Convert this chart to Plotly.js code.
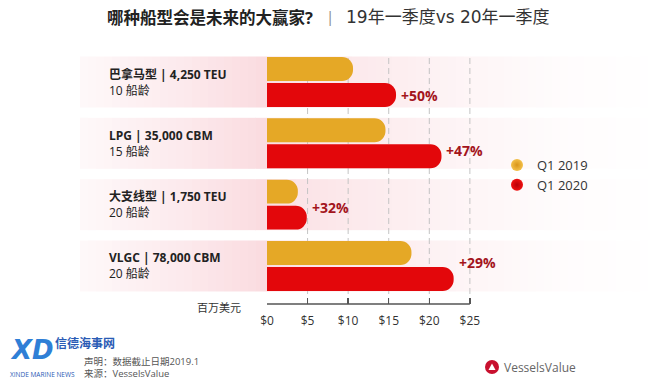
<!DOCTYPE html>
<html>
<head>
<meta charset="utf-8">
<script src="https://cdn.plot.ly/plotly-3.0.1.min.js"></script>
<style>html,body{margin:0;padding:0;background:#fff;}#chart{width:670px;height:380px;}</style>
</head>
<body>
<div id="chart"></div>
<script>
// ---- data ----
const categories = ['巴拿马型 | 4,250 TEU', 'LPG | 35,000 CBM', '大支线型 | 1,750 TEU', 'VLGC | 78,000 CBM'];
const shipAges = ['10 船龄', '15 船龄', '20 船龄', '20 船龄'];
const q1_2019 = [10.6, 14.6, 3.8, 17.8];
const q1_2020 = [15.9, 21.5, 4.9, 23.0];
const growth = ['+50%', '+47%', '+32%', '+29%'];
const tickVals = [0, 5, 10, 15, 20, 25];
const tickText = ['$0', '$5', '$10', '$15', '$20', '$25'];
const seriesNames = ['Q1 2019', 'Q1 2020'];

// ---- layout helpers (pixel -> paper) ----
const L = 267, R = 478, T = 56, B = 304;
const px = x => (x - L) / (R - L);
const py = y => (B - y) / (B - T);
const FONT = 'Open Sans, "Noto Sans CJK SC", sans-serif';
const GOLD = '#e5a826', RED = '#e3070b';

const traces = [
  {type: 'bar', orientation: 'h', name: seriesNames[0], y: categories, x: q1_2019,
   marker: {color: GOLD}, showlegend: false, hoverinfo: 'x'},
  {type: 'bar', orientation: 'h', name: seriesNames[1], y: categories, x: q1_2020,
   marker: {color: RED}, showlegend: false, hoverinfo: 'x'},
  {type: 'scatter', mode: 'markers', name: seriesNames[0], x: [null], y: [null],
   marker: {size: 12, color: '#f3c04a', gradient: {type: 'radial', color: '#d9951a'}}},
  {type: 'scatter', mode: 'markers', name: seriesNames[1], x: [null], y: [null],
   marker: {size: 12, color: '#f01010', gradient: {type: 'radial', color: '#b80008'}}}
];

const shapes = [];
// pink gradient bands
const stops = [[80, 0.10], [180, 0.32], [265, 0.55], [300, 0.42], [470, 0.15], [560, 0.05], [660, 0]];
function alphaAt(x) {
  for (let k = 0; k < stops.length - 1; k++) {
    const [x0, a0] = stops[k], [x1, a1] = stops[k + 1];
    if (x >= x0 && x <= x1) return a0 + (a1 - a0) * (x - x0) / (x1 - x0);
  }
  return 0;
}
categories.forEach((c, i) => {
  for (let x = 80; x < 660; x += 8) {
    shapes.push({type: 'rect', layer: 'below', xref: 'paper', yref: 'y',
      x0: px(x), x1: px(x + 8), y0: i - 0.416, y1: i + 0.416,
      line: {width: 0}, fillcolor: `rgba(246,190,198,${alphaAt(x + 4).toFixed(3)})`});
  }
});
// dashed grid lines
tickVals.slice(1).forEach(v => {
  shapes.push({type: 'line', layer: 'below', xref: 'x', yref: 'paper', x0: v, x1: v, y0: 0, y1: 1,
    line: {color: '#c4c4c4', width: 1, dash: '6px,4px'}});
});
// axis baseline
shapes.push({type: 'line', layer: 'above', xref: 'x', yref: 'paper', x0: 0, x1: 25, y0: 0, y1: 0,
  line: {color: '#555', width: 1.5}});
// logo circle bottom right
shapes.push({type: 'circle', xref: 'paper', yref: 'paper', xsizemode: 'pixel', ysizemode: 'pixel',
  xanchor: px(492), yanchor: py(367), x0: -7, x1: 7, y0: -7, y1: 7,
  fillcolor: '#c8102e', line: {width: 0}});
shapes.push({type: 'path', xref: 'paper', yref: 'paper', xsizemode: 'pixel', ysizemode: 'pixel',
  xanchor: px(492), yanchor: py(367), path: 'M -3.5,-3 L 3.5,-3 L 0,3.5 Z',
  fillcolor: '#ffffff', line: {width: 0}});

const annotations = [];
// title
annotations.push({xref: 'paper', yref: 'paper', x: px(105), y: py(17), xanchor: 'left', yanchor: 'middle',
  showarrow: false, text: '<b>哪种船型会是未来的大赢家?</b>', font: {family: FONT, size: 16.5, color: '#222'}});
annotations.push({xref: 'paper', yref: 'paper', x: px(330), y: py(16), xanchor: 'center', yanchor: 'middle',
  showarrow: false, text: '|', font: {family: FONT, size: 15, color: '#888'}});
annotations.push({xref: 'paper', yref: 'paper', x: px(344), y: py(17), xanchor: 'left', yanchor: 'middle',
  showarrow: false, text: '19年一季度vs 20年一季度',
  font: {family: 'DejaVu Sans, "Noto Sans CJK SC", sans-serif', size: 17, color: '#333'}});
// category labels
categories.forEach((c, i) => {
  annotations.push({xref: 'paper', yref: 'y', x: px(107), y: i, yshift: 0, xanchor: 'left', yanchor: 'middle',
    align: 'left', showarrow: false, text: '<b>' + c + '</b><br>' + shipAges[i],
    font: {family: FONT, size: 12, color: '#222'}});
});
// growth labels
const growthShift = [-13, -7, -3, 3];
growth.forEach((g, i) => {
  annotations.push({xref: 'x', yref: 'y', x: q1_2020[i], y: i, xshift: 3, yshift: growthShift[i],
    xanchor: 'left', yanchor: 'middle', showarrow: false, text: '<b>' + g + '</b>',
    font: {family: FONT, size: 14, color: '#a3141c'}});
});
// unit label
annotations.push({xref: 'paper', yref: 'paper', x: px(243), y: py(307), xanchor: 'right', yanchor: 'middle',
  showarrow: false, text: '百万美元', font: {family: FONT, size: 11, color: '#333'}});
// footer
annotations.push({xref: 'paper', yref: 'paper', x: px(8), y: py(350), xanchor: 'left', yanchor: 'middle',
  showarrow: false, text: '<b><i>XD</i></b>', font: {family: 'DejaVu Sans, sans-serif', size: 26, color: '#2f7fd6'}});
annotations.push({xref: 'paper', yref: 'paper', x: px(8), y: py(374), xanchor: 'left', yanchor: 'middle',
  showarrow: false, text: 'XINDE MARINE NEWS', font: {family: FONT, size: 6.5, color: '#2a5bb5'}});
annotations.push({xref: 'paper', yref: 'paper', x: px(53), y: py(343), xanchor: 'left', yanchor: 'middle',
  showarrow: false, text: '<b>信德海事网</b>', font: {family: FONT, size: 12, color: '#2a5bb5'}});
annotations.push({xref: 'paper', yref: 'paper', x: px(82), y: py(367), xanchor: 'left', yanchor: 'middle',
  align: 'left', showarrow: false, text: '声明：数据截止日期2019.1<br>来源：VesselsValue',
  font: {family: FONT, size: 9.5, color: '#555'}});
annotations.push({xref: 'paper', yref: 'paper', x: px(502), y: py(367), xanchor: 'left', yanchor: 'middle',
  showarrow: false, text: 'VesselsValue', font: {family: FONT, size: 12, color: '#666'}});

const layout = {
  width: 670, height: 380,
  margin: {l: L, r: 670 - R, t: T, b: 380 - B, pad: 0},
  paper_bgcolor: '#ffffff', plot_bgcolor: 'rgba(0,0,0,0)',
  font: {family: FONT, color: '#333'},
  barmode: 'group', bargap: 0.152, bargroupgap: 0.08, barcornerradius: '50%',
  xaxis: {range: [0, 26], tickvals: tickVals, ticktext: tickText, ticks: 'inside', ticklen: 6,
    tickwidth: 1.5, tickcolor: '#555', showgrid: false, zeroline: false, showline: false,
    tickfont: {family: FONT, size: 12, color: '#333'}, ticklabelstandoff: 8, fixedrange: true},
  yaxis: {type: 'category', range: [3.62, -0.424], showticklabels: false, ticks: '', showgrid: false,
    zeroline: false, showline: false, fixedrange: true},
  showlegend: true,
  legend: {x: px(497), y: py(150), xanchor: 'left', yanchor: 'top', bgcolor: 'rgba(0,0,0,0)',
    font: {family: FONT, size: 13, color: '#333'}, tracegroupgap: 0, itemwidth: 30},
  shapes: shapes, annotations: annotations
};

Plotly.newPlot('chart', traces, layout, {displayModeBar: false, staticPlot: true});
</script>
</body>
</html>
